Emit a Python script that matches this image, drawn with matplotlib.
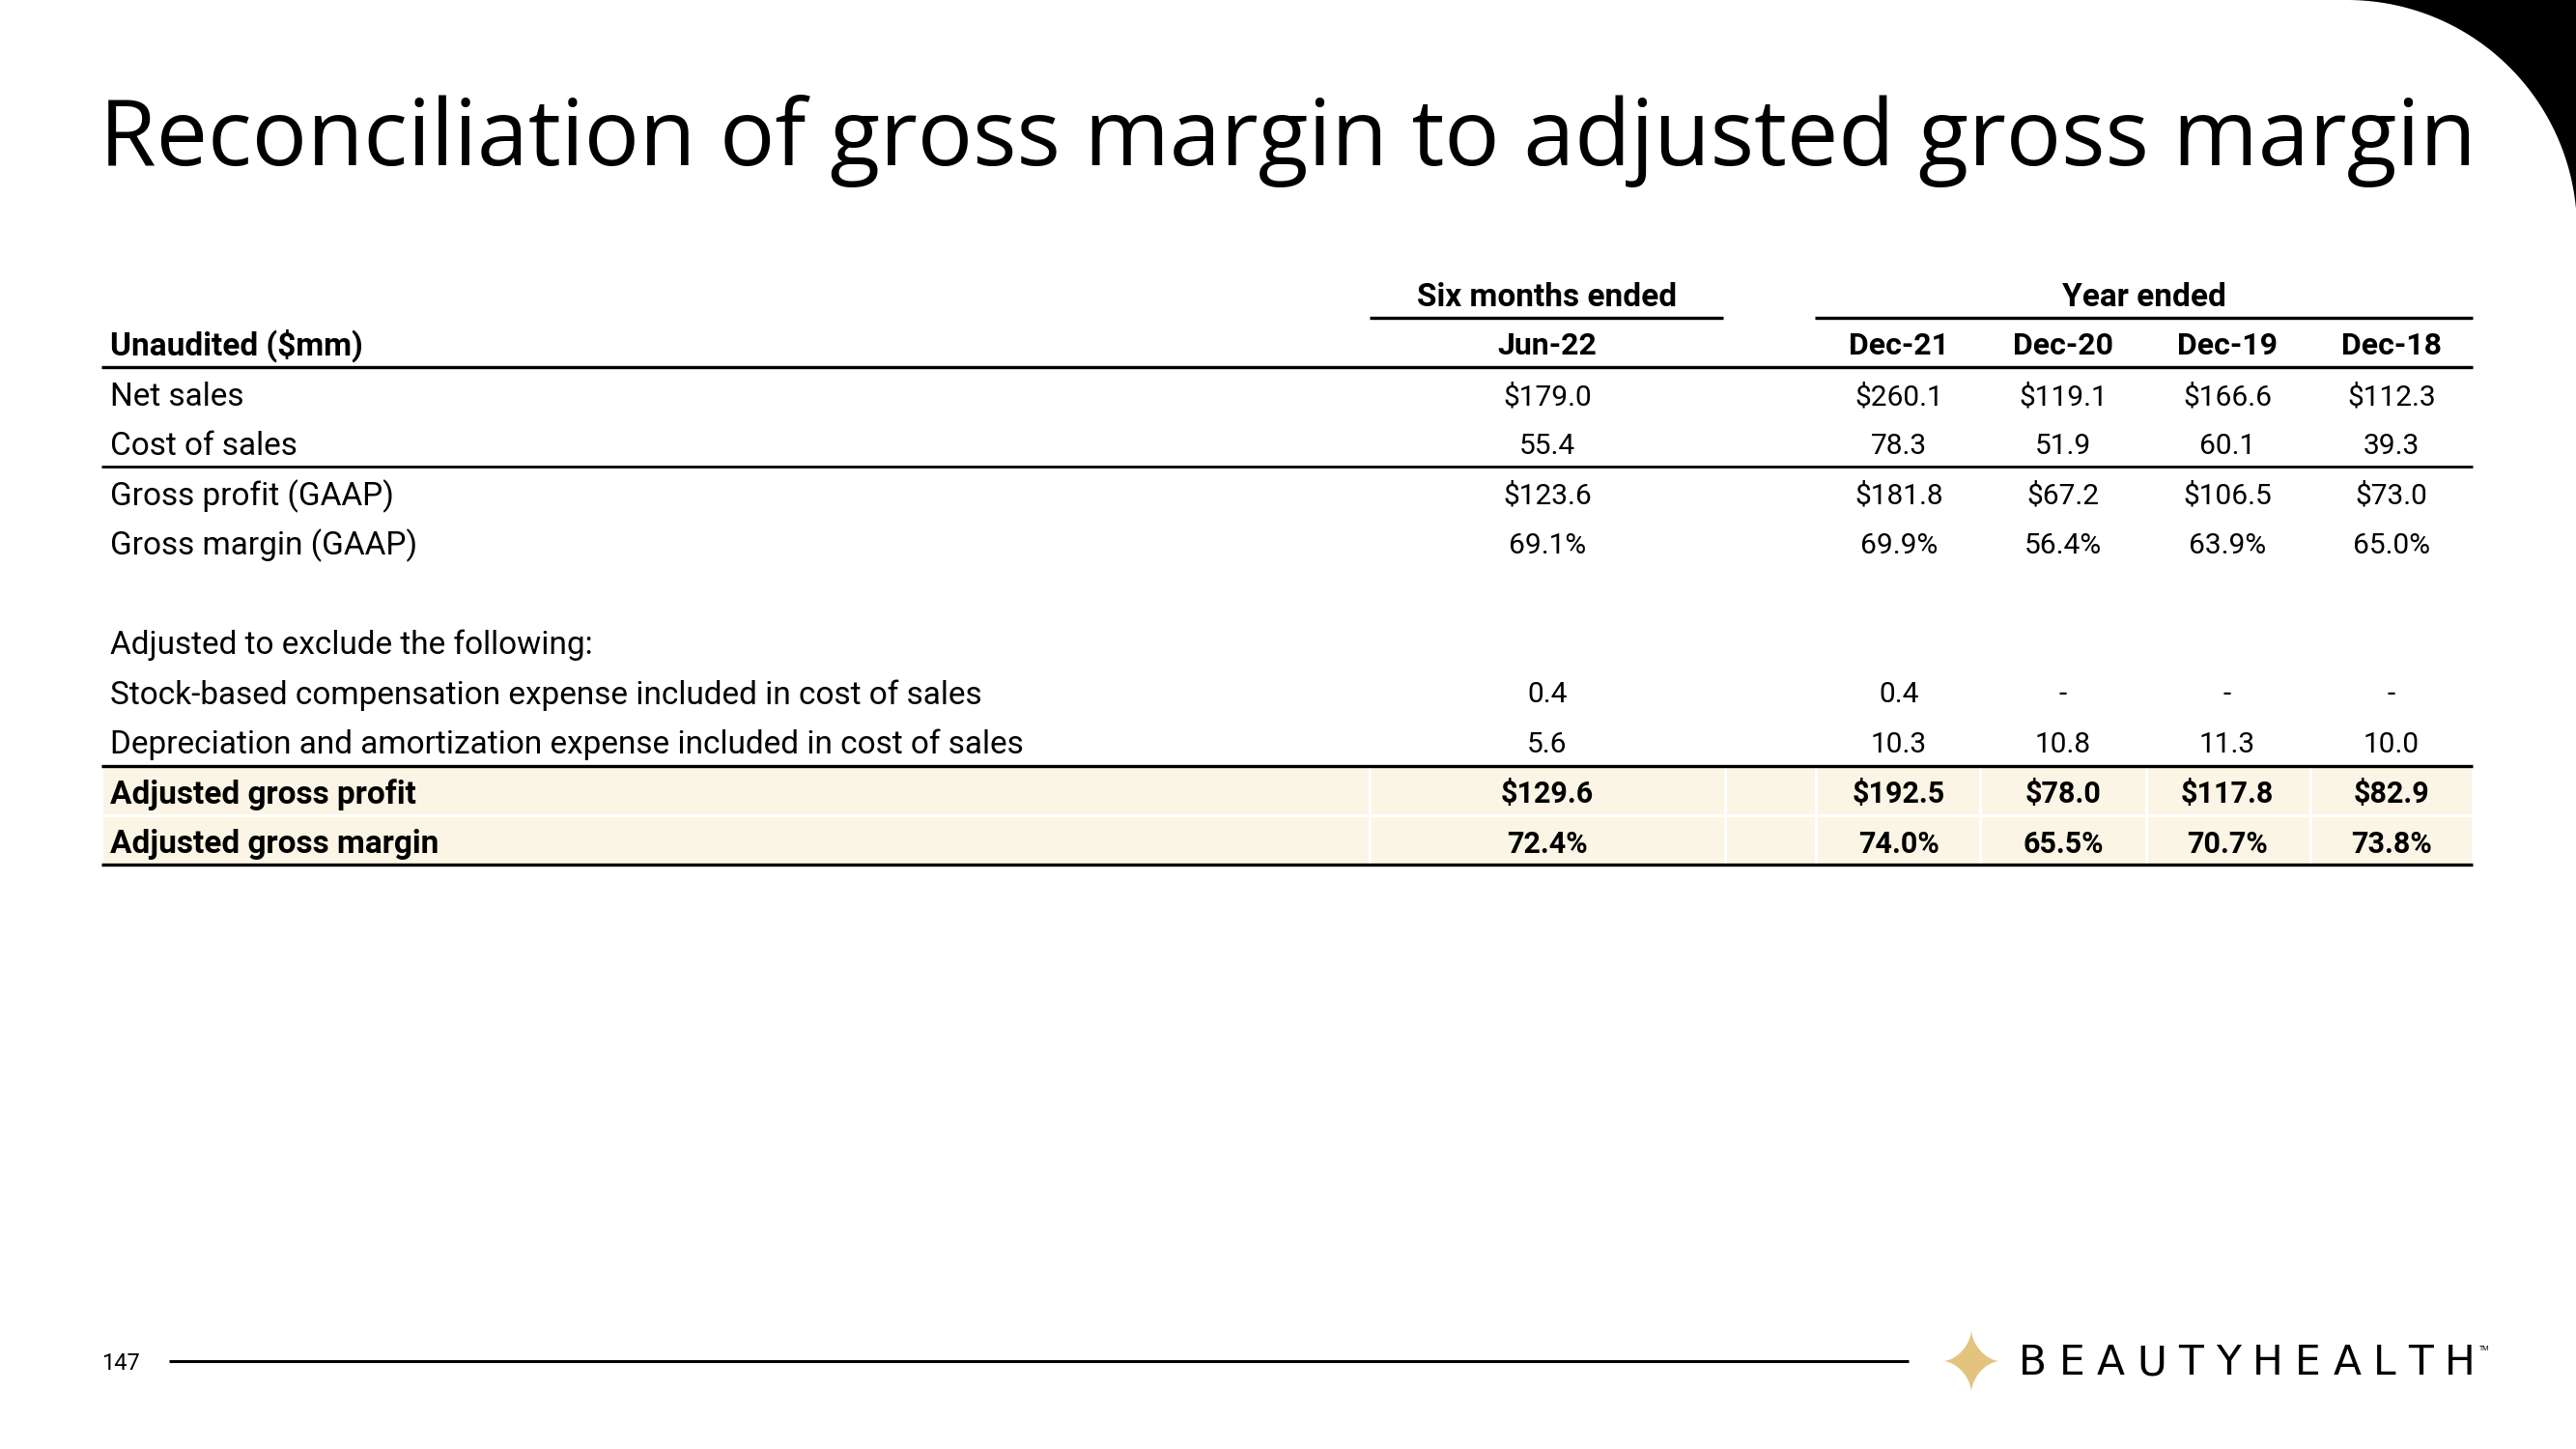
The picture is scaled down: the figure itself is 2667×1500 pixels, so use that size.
import numpy as np
import matplotlib
matplotlib.use("Agg")
import matplotlib.pyplot as plt
from matplotlib.patches import Rectangle, Polygon

# ---------------- data ----------------
title = "Reconciliation of gross margin to adjusted gross margin"
group_headers = ["Six months ended", "Year ended"]
col_headers = ["Jun-22", "Dec-21", "Dec-20", "Dec-19", "Dec-18"]
row_labels = [
    "Net sales",
    "Cost of sales",
    "Gross profit (GAAP)",
    "Gross margin (GAAP)",
    "",
    "Adjusted to exclude the following:",
    "Stock-based compensation expense included in cost of sales",
    "Depreciation and amortization expense included in cost of sales",
    "Adjusted gross profit",
    "Adjusted gross margin",
]
jun22 = ["$179.0", "55.4", "$123.6", "69.1%", "", "", "0.4", "5.6", "$129.6", "72.4%"]
dec21 = ["$260.1", "78.3", "$181.8", "69.9%", "", "", "0.4", "10.3", "$192.5", "74.0%"]
dec20 = ["$119.1", "51.9", "$67.2", "56.4%", "", "", "-", "10.8", "$78.0", "65.5%"]
dec19 = ["$166.6", "60.1", "$106.5", "63.9%", "", "", "-", "11.3", "$117.8", "70.7%"]
dec18 = ["$112.3", "39.3", "$73.0", "65.0%", "", "", "-", "10.0", "$82.9", "73.8%"]
bold_rows = [8, 9]
page_number = "147"
brand = "BEAUTYHEALTH"

# ---------------- figure ----------------
W, H = 2667, 1500
fig = plt.figure(figsize=(W / 100, H / 100), dpi=100)
ax = fig.add_axes([0, 0, 1, 1])
ax.set_xlim(0, W)
ax.set_ylim(H, 0)
ax.axis("off")
renderer = fig.canvas.get_renderer()

FONT = ["Roboto", "DejaVu Sans"]
TFONT = ["Open Sans", "DejaVu Sans"]


def text_width(t):
    bb = t.get_window_extent(renderer=renderer)
    return bb.width


# top-right decorative corner
cx, cy, r = 2430, 238, 238
t = np.linspace(-np.pi / 2, 0, 100)
arc = np.column_stack([cx + r * np.cos(t), cy + r * np.sin(t)])
pts = np.vstack([[cx, 0], arc, [W, cy], [W, 0]])
ax.add_patch(Polygon(pts, closed=True, facecolor="black", edgecolor="none"))

# title (fit to the reference width)
tt = ax.text(103, 146, title, fontsize=64, family=TFONT, color="black", va="center", ha="left")
w0 = text_width(tt)
tt.set_fontsize(64 * (2462 / w0))

# table geometry
label_x = 114
col_x = [1602, 1966, 2136, 2306, 2476]
row_y0 = 411
row_h = 51.4
row_y = [row_y0 + i * row_h for i in range(len(row_labels))]
fs_lab = 24
fs_val = 21.5
fs_hdr = 23
columns = [jun22, dec21, dec20, dec19, dec18]

# highlighted cells
cell_edges = [105, 1418, 1786, 1880, 2050, 2222, 2392, 2560]
for ri in bold_rows:
    y = row_y0 - 3 + ri * row_h
    for a, b in zip(cell_edges[:-1], cell_edges[1:]):
        ax.add_patch(Rectangle((a + 1.5, y - row_h / 2 + 1.5), b - a - 3, row_h - 3,
                               facecolor="#FAF5E4", edgecolor="none", zorder=0))

# group headers
ax.text(col_x[0], 308, group_headers[0], fontsize=fs_lab, family=FONT, weight="bold",
        ha="center", va="center")
ax.text((1879 + 2560) / 2, 308, group_headers[1], fontsize=fs_lab, family=FONT, weight="bold",
        ha="center", va="center")
lw = 2.4
ax.plot([1418, 1784], [329, 329], color="black", lw=lw, solid_capstyle="butt")
ax.plot([1879, 2560], [329, 329], color="black", lw=lw, solid_capstyle="butt")

# column headers
ax.text(label_x, 358, "Unaudited ($mm)", fontsize=fs_lab, family=FONT, weight="bold",
        ha="left", va="center")
for x, h in zip(col_x, col_headers):
    ax.text(x, 358, h, fontsize=fs_hdr, family=FONT, weight="bold", ha="center", va="center")
ax.plot([105, 2560], [380, 380], color="black", lw=lw, solid_capstyle="butt")

# body
for i, lab in enumerate(row_labels):
    wt = "bold" if i in bold_rows else "normal"
    y = row_y[i]
    if lab:
        ax.text(label_x, y, lab, fontsize=fs_lab, family=FONT, weight=wt, ha="left", va="center")
    for x, col in zip(col_x, columns):
        if col[i]:
            ax.text(x, y, col[i], fontsize=fs_val if i not in bold_rows else fs_val + 0.5,
                    family=FONT, weight=wt, ha="center", va="center")

# rules in body
ax.plot([105, 2560], [483, 483], color="black", lw=2.0, solid_capstyle="butt")
ax.plot([105, 2560], [793, 793], color="black", lw=lw, solid_capstyle="butt")
ax.plot([105, 2560], [895, 895], color="black", lw=lw, solid_capstyle="butt")

# footer
ax.text(105, 1412, page_number, fontsize=17, family=FONT, ha="left", va="center")
ax.plot([175, 1976], [1409, 1409], color="black", lw=2.2, solid_capstyle="butt")

# star
sx, sy, hw, hh = 2041, 1409, 29, 32
th = np.linspace(0, 2 * np.pi, 400)
star = np.column_stack([sx + hw * np.sign(np.cos(th)) * np.abs(np.cos(th)) ** 3.2,
                        sy + hh * np.sign(np.sin(th)) * np.abs(np.sin(th)) ** 3.2])
ax.add_patch(Polygon(star, closed=True, facecolor="#E3C47F", edgecolor="none"))

# brand word with letter spacing to match the reference width
BFONT = ["DejaVu Sans"]
bfs = 30.5
chars = [ax.text(0, 1411, c, fontsize=bfs, family=BFONT, ha="left", va="center") for c in brand]
widths = [text_width(c) for c in chars]
target = 2563 - 2090
gap = (target - sum(widths)) / (len(brand) - 1)
xpos = 2090
for c, w in zip(chars, widths):
    c.set_x(xpos)
    xpos += w + gap
ax.text(2567, 1397, "TM", fontsize=5, family=FONT, ha="left", va="center")

fig.savefig("out.png", dpi=100, facecolor="white")
